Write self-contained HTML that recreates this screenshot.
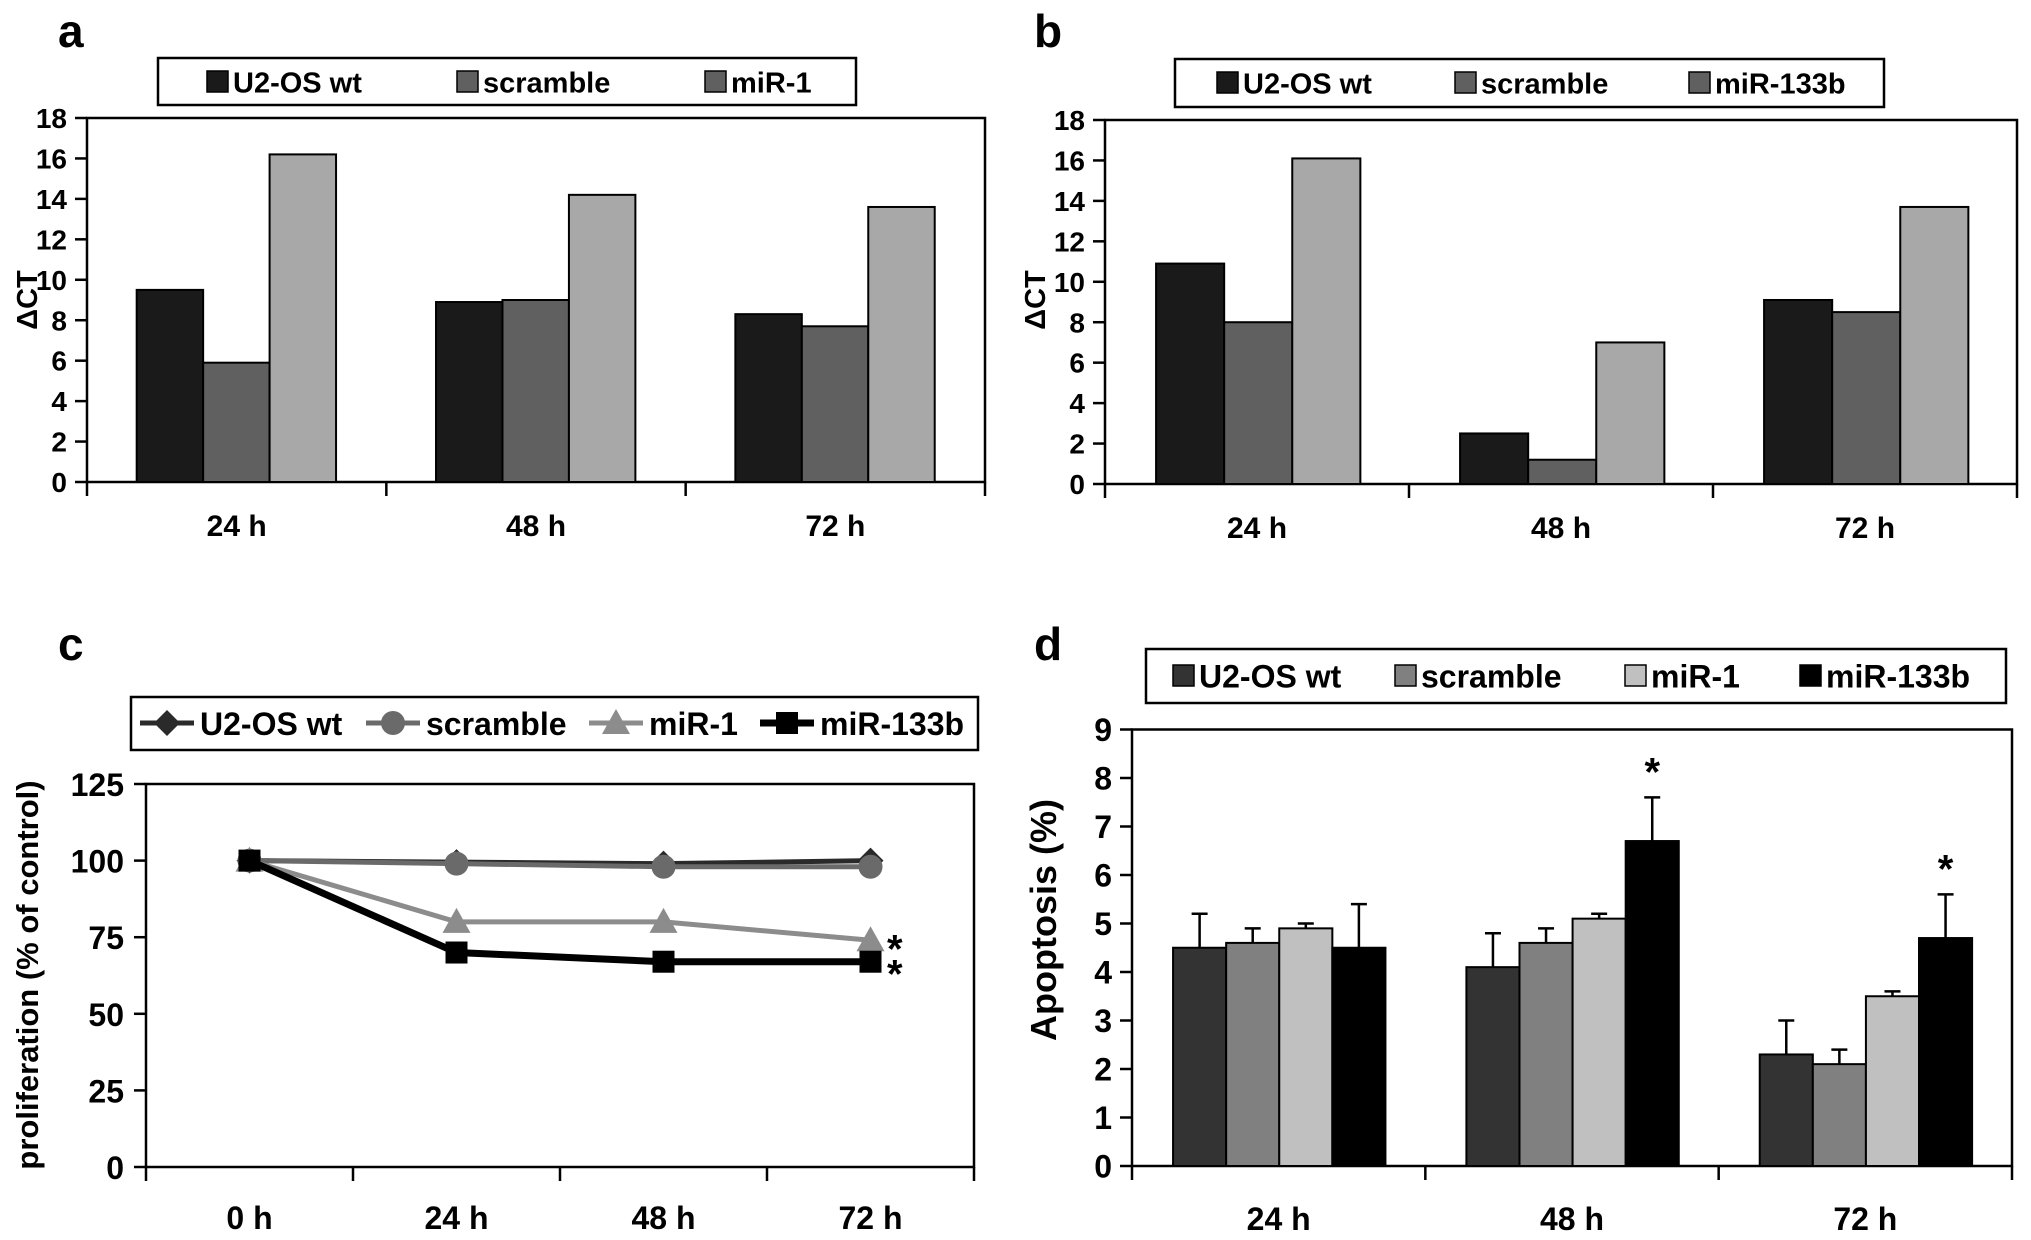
<!DOCTYPE html>
<html><head><meta charset="utf-8">
<style>
html,body{margin:0;padding:0;background:#fff;}
svg{display:block;}
text{font-family:"Liberation Sans",Arial,sans-serif;font-weight:bold;fill:#000;}
.n{font-family:"Liberation Sans Narrow","Liberation Sans",Arial,sans-serif;}
</style></head>
<body>
<svg id="fig" width="2031" height="1240" viewBox="0 0 2031 1240" xmlns="http://www.w3.org/2000/svg"></svg>
<script>
// ---- data ----
const timeCats = ["24 h","48 h","72 h"];
const aSeries = ["U2-OS wt","scramble","miR-1"];
const aWt = [9.5, 8.9, 8.3];
const aScr = [5.9, 9.0, 7.7];
const aMir1 = [16.2, 14.2, 13.6];
const bSeries = ["U2-OS wt","scramble","miR-133b"];
const bWt = [10.9, 2.5, 9.1];
const bScr = [8.0, 1.2, 8.5];
const bMir133 = [16.1, 7.0, 13.7];
const abTicks = [0,2,4,6,8,10,12,14,16,18];
const cCats = ["0 h","24 h","48 h","72 h"];
const cSeries = ["U2-OS wt","scramble","miR-1","miR-133b"];
const cWt = [100, 99.5, 99, 100];
const cScr = [100, 99, 98, 98];
const cMir1 = [100, 80, 80, 74];
const cMir133 = [100, 70, 67, 67];
const cTicks = [0,25,50,75,100,125];
const dSeries = ["U2-OS wt","scramble","miR-1","miR-133b"];
const dWt = [4.5, 4.1, 2.3];
const dScr = [4.6, 4.6, 2.1];
const dMir1 = [4.9, 5.1, 3.5];
const dMir133 = [4.5, 6.7, 4.7];
const dWtErr = [0.7, 0.7, 0.7];
const dScrErr = [0.3, 0.3, 0.3];
const dMir1Err = [0.1, 0.1, 0.1];
const dMir133Err = [0.9, 0.9, 0.9];
const dTicks = [0,1,2,3,4,5,6,7,8,9];

const NS="http://www.w3.org/2000/svg";
const svg=document.getElementById('fig');
function el(tag,attrs,parent,txt){const e=document.createElementNS(NS,tag);for(const k in attrs)e.setAttribute(k,attrs[k]);if(txt!==undefined)e.textContent=txt;(parent||svg).appendChild(e);return e;}
function grp(name){const g=el('g',{});return g;}

function barPanel(o){
  const g=grp(o.name);
  const ys=v=>o.y0-(v/o.max)*(o.y0-o.y1);
  const gw=(o.x1-o.x0)/o.cats.length;
  const fr=el('rect',{x:o.x0,y:o.y1,width:o.x1-o.x0,height:o.y0-o.y1,fill:'none',stroke:'#000','stroke-width':2.5},g);
  
  o.series.forEach((vals,si)=>{
    vals.forEach((v,ci)=>{
      const x=o.x0+ci*gw+o.off*gw+si*o.bw*gw;
      const r=el('rect',{x:x,y:ys(v),width:o.bw*gw,height:o.y0-ys(v),fill:o.colors[si],stroke:'#000','stroke-width':2},g);
      
      
      if(o.err){const e=o.err[si][ci];if(e>0){const cx=x+o.bw*gw/2;const yt=ys(v+e);
        const l=el('path',{d:`M${cx},${ys(v)}V${yt}M${cx-8},${yt}H${cx+8}`,stroke:'#000','stroke-width':2.5,fill:'none'},g);
        }}
    });
  });
  o.ticks.forEach(t=>{const y=ys(t);
    el('line',{x1:o.x0-12,x2:o.x0,y1:y,y2:y,stroke:'#000','stroke-width':2.5},g);
    const tx=el('text',{x:o.x0-20,y:y+o.tf*0.36,'text-anchor':'end','font-size':o.tf,class:o.narrow?'n':''},g,t);
    
  });
  for(let i=0;i<=o.cats.length;i++){const x=o.x0+i*gw;el('line',{x1:x,x2:x,y1:o.y0,y2:o.y0+14,stroke:'#000','stroke-width':2.5},g);}
  o.cats.forEach((c,i)=>{const tx=el('text',{x:o.x0+(i+0.5)*gw,y:o.xly,'text-anchor':'middle','font-size':o.xf,class:o.narrow?'n':''},g,c);
    });
  return {g,ys,gw};
}
function legendBox(name,x,y,w,h){const r=el('rect',{x:x,y:y,width:w,height:h,fill:'#fff',stroke:'#000','stroke-width':2.5});}
function sqLegend(xs,y,labels,colors,fs,narrow){
  labels.forEach((l,i)=>{const g=grp('legend-entry');
    el('rect',{x:xs[i],y:y-11,width:21,height:21,fill:colors[i],stroke:'#000','stroke-width':1.5},g);
    el('text',{x:xs[i]+26,y:y+fs*0.36,'font-size':fs,class:narrow?'n':''},g,l);});
}
function label(t,x,y,fs,name){const e=el('text',{x:x,y:y,'font-size':fs},svg,t);return e;}
function yTitle(t,x,y,fs,name){const e=el('text',{x:x,y:y,'font-size':fs,'text-anchor':'middle',transform:`rotate(-90 ${x} ${y})`},svg,t);}

// ---- panel a ----
label('a',58,47,46,'panel-label-a');
legendBox('legend-a',158,58,698,47);
sqLegend([207,457,705],82,aSeries,['#1a1a1a','#606060','#606060'],29,true);
barPanel({name:'panel-a',x0:87,x1:985,y0:482,y1:118,max:18,cats:timeCats,series:[aWt,aScr,aMir1],names:aSeries,
  colors:['#1a1a1a','#606060','#a8a8a8'],off:0.166,bw:0.222,ticks:abTicks,tf:28,xf:30,xly:536});
yTitle('ΔCT',37,300,29,'y-axis-title-a');

// ---- panel b ----
label('b',1034,47,46,'panel-label-b');
legendBox('legend-b',1175,59,709,48);
sqLegend([1217,1455,1689],83,bSeries,['#1a1a1a','#606060','#606060'],29,true);
barPanel({name:'panel-b',x0:1105,x1:2017,y0:484,y1:120,max:18,cats:timeCats,series:[bWt,bScr,bMir133],names:bSeries,
  colors:['#1a1a1a','#606060','#a8a8a8'],off:0.168,bw:0.224,ticks:abTicks,tf:28,xf:30,xly:538});
yTitle('ΔCT',1045,300,29,'y-axis-title-b');

// ---- panel c (line) ----
label('c',58,660,46,'panel-label-c');
legendBox('legend-c',131,697,847,53);
(function(){
  const g=grp('panel-c');
  const x0=146,x1=974,y0=1167,y1=784,n=cCats.length;const step=(x1-x0)/n;
  const xs=i=>x0+(i+0.5)*step, ys=v=>y0-(v/125)*(y0-y1);
  el('rect',{x:x0,y:y1,width:x1-x0,height:y0-y1,fill:'none',stroke:'#000','stroke-width':2.5},g);
  cTicks.forEach(t=>{const y=ys(t);el('line',{x1:x0-12,x2:x0,y1:y,y2:y,stroke:'#000','stroke-width':2.5},g);
    const tx=el('text',{x:x0-22,y:y+12,'text-anchor':'end','font-size':32,class:'n'},g,t);});
  for(let i=0;i<=n;i++){const x=x0+i*step;el('line',{x1:x,x2:x,y1:y0,y2:y0+14,stroke:'#000','stroke-width':2.5},g);}
  cCats.forEach((c,i)=>{const tx=el('text',{x:xs(i),y:1229,'text-anchor':'middle','font-size':32,class:'n'},g,c);});
  const cols=['#2a2a2a','#6a6a6a','#8c8c8c','#000'];
  const series=[cWt,cScr,cMir1,cMir133];
  const marker=(k,x,y,c,p)=>{
    if(k==0)el('path',{d:`M${x},${y-13}L${x+13},${y}L${x},${y+13}L${x-13},${y}Z`,fill:c},p);
    else if(k==1)el('circle',{cx:x,cy:y,r:12,fill:c},p);
    else if(k==2)el('path',{d:`M${x},${y-14}L${x+14},${y+11}L${x-14},${y+11}Z`,fill:c},p);
    else el('rect',{x:x-11,y:y-11,width:22,height:22,fill:c},p);
  };
  series.forEach((vals,k)=>{const sg=el('g',{},g);
    el('polyline',{points:vals.map((v,i)=>xs(i)+','+ys(v)).join(' '),fill:'none',stroke:cols[k],'stroke-width':k==3?7:5},sg);
    vals.forEach((v,i)=>marker(k,xs(i),ys(v),cols[k],sg));});
  const s1=el('text',{x:887,y:ys(cMir1[3])+22,'font-size':40},g,'*');
  const s2=el('text',{x:887,y:ys(cMir133[3])+26,'font-size':40},g,'*');
  const lx=[140,366,589,760];
  cSeries.forEach((l,k)=>{const lg=grp('legend-entry');
    el('line',{x1:lx[k],x2:lx[k]+54,y1:723,y2:723,stroke:cols[k],'stroke-width':k==3?7:5},lg);
    marker(k,lx[k]+27,723,cols[k],lg);
    el('text',{x:lx[k]+60,y:735,'font-size':32,class:'n'},lg,l);});
})();
yTitle('proliferation (% of control)',38,975,31,'y-axis-title-c');

// ---- panel d ----
label('d',1034,660,46,'panel-label-d');
legendBox('legend-d',1146,649,860,54);
sqLegend([1173,1395,1625,1800],676,dSeries,['#333333','#808080','#c0c0c0','#000000'],32,true);
(function(){
  const p=barPanel({name:'panel-d',x0:1132,x1:2012,y0:1166,y1:729.5,max:9,cats:timeCats,series:[dWt,dScr,dMir1,dMir133],names:dSeries,
    colors:['#333333','#808080','#c0c0c0','#000000'],off:0.14,bw:0.181,ticks:dTicks,tf:32,xf:32,xly:1230,narrow:true,
    err:[dWtErr,dScrErr,dMir1Err,dMir133Err]});
  [1,2].forEach(ci=>{const x=1132+ci*p.gw+(0.14+3.5*0.181)*p.gw;
    const s=el('text',{x:x,y:p.ys(dMir133[ci]+dMir133Err[ci])-12,'font-size':40,'text-anchor':'middle'},p.g,'*');
    });
})();
yTitle('Apoptosis (%)',1056,920,36,'y-axis-title-d');
</script>
</body></html>
